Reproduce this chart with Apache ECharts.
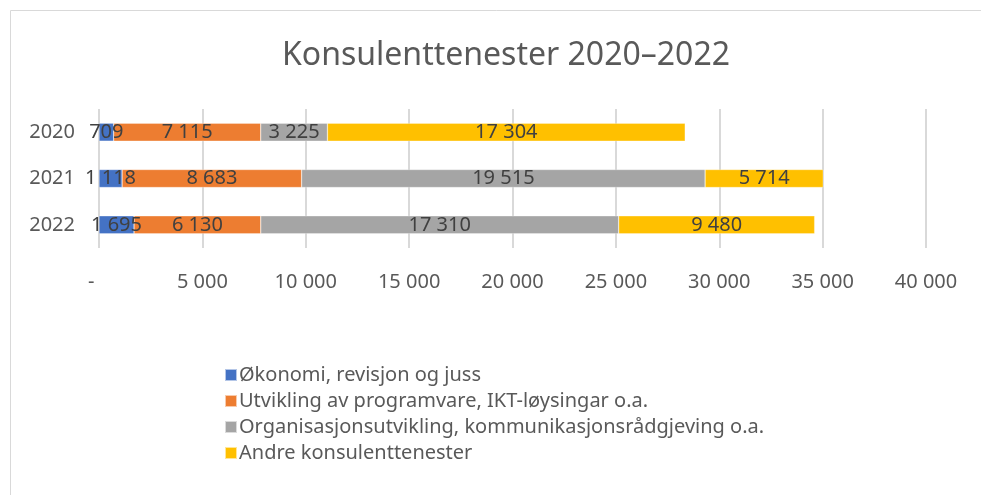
<!DOCTYPE html>
<html>
<head>
<meta charset="utf-8">
<script src="https://cdn.jsdelivr.net/npm/echarts@6/dist/echarts.min.js"></script>
<style>
  html, body { margin: 0; padding: 0; background: #fff; }
  #chart { width: 981px; height: 495px; }
</style>
</head>
<body>
<div id="chart"></div>
<script>
const years = ['2020', '2021', '2022'];
const seriesNames = [
  'Økonomi, revisjon og juss',
  'Utvikling av programvare, IKT-løysingar o.a.',
  'Organisasjonsutvikling, kommunikasjonsrådgjeving o.a.',
  'Andre konsulenttenester'
];
const okonomi = [709, 1118, 1695];
const utvikling = [7115, 8683, 6130];
const organisasjon = [3225, 19515, 17310];
const andre = [17304, 5714, 9480];
const colors = ['#4472C4', '#ED7D31', '#A5A5A5', '#FFC000'];

const FONT = '"Noto Sans", "Open Sans", sans-serif';

// 12345 -> "12 345"
function fmt(v) {
  return String(v).replace(/\B(?=(\d{3})+(?!\d))/g, ' ');
}

const values = [okonomi, utvikling, organisasjon, andre];

let myChart = echarts.init(document.getElementById('chart'));
myChart.setOption({
  animation: false,
  color: colors,
  title: {
    text: 'Konsulenttenester 2020–2022',
    left: 277,
    top: 35,
    textStyle: { fontFamily: FONT, fontSize: 32, fontWeight: 'normal', color: '#595959' }
  },
  graphic: [{
    type: 'rect',
    shape: { x: 10.5, y: 10.5, width: 1000, height: 1000 },
    style: { fill: 'none', stroke: '#d9d9d9', lineWidth: 1 },
    silent: true
  }],
  legend: {
    orient: 'vertical',
    left: 219,
    top: 360,
    itemWidth: 12,
    itemHeight: 12,
    itemGap: 6,
    icon: 'rect',
    textStyle: { fontFamily: FONT, fontSize: 20, color: '#595959', padding: [0, 0, 0, -3] },
    data: seriesNames
  },
  grid: { left: 99, right: 55, top: 109, bottom: 247, containLabel: false },
  xAxis: {
    type: 'value',
    min: 0,
    max: 40000,
    interval: 5000,
    axisLine: { show: false },
    axisTick: { show: false },
    splitLine: { lineStyle: { color: '#d9d9d9', width: 2 } },
    axisLabel: {
      // Excel accounting style: zero shown as a dash, slightly left of the tick
      formatter: function (v) { return v === 0 ? '-\u00a0\u00a0\u00a0' : fmt(v); },
      margin: 24,
      fontFamily: FONT,
      fontSize: 20,
      color: '#595959'
    }
  },
  yAxis: {
    type: 'category',
    inverse: true,
    data: years,
    axisLine: { show: false },
    axisTick: { show: false },
    axisLabel: { margin: 24, fontFamily: FONT, fontSize: 20, color: '#595959' }
  },
  series: seriesNames.map(function (name, i) {
    return {
      name: name,
      type: 'bar',
      stack: 'total',
      barWidth: 18,
      data: values[i],
      itemStyle: { borderColor: 'rgba(255,255,255,0.6)', borderWidth: 0.5 },
      label: {
        show: true,
        position: 'inside',
        formatter: function (p) { return fmt(p.value); },
        fontFamily: FONT,
        fontSize: 20,
        color: '#404040'
      }
    };
  })
});
</script>
</body>
</html>
